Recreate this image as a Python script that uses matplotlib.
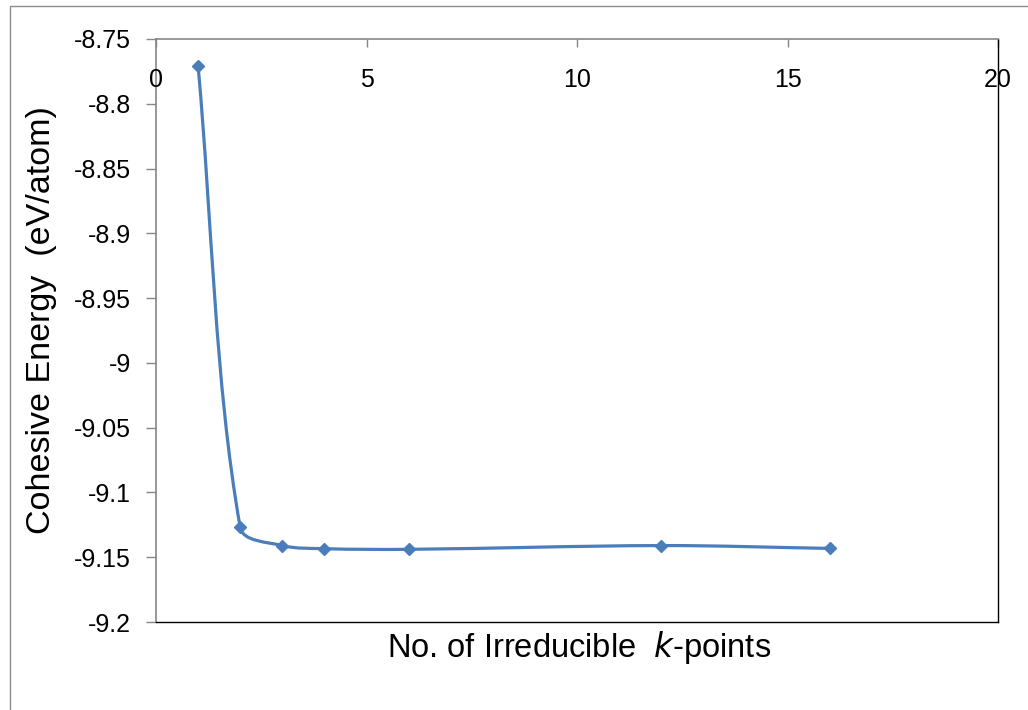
import numpy as np
import matplotlib
matplotlib.use("Agg")
import matplotlib.pyplot as plt
from matplotlib.patches import Rectangle
from matplotlib.path import Path
from matplotlib.patches import PathPatch
import matplotlib.transforms as mtransforms

plt.rcParams['font.family'] = ['Liberation Sans', 'DejaVu Sans']

kpoints = [1, 2, 3, 4, 6, 12, 16]
energy = [-8.771, -9.127, -9.141, -9.1434, -9.1439, -9.141, -9.1432]
xticks = [0, 5, 10, 15, 20]
yticks = [-8.75, -8.8, -8.85, -8.9, -8.95, -9.0, -9.05, -9.1, -9.15, -9.2]
ytick_labels = ['-8.75', '-8.8', '-8.85', '-8.9', '-8.95', '-9', '-9.05', '-9.1', '-9.15', '-9.2']

W, H = 1028, 710
fig = plt.figure(figsize=(W / 100, H / 100), dpi=100)

# outer chart border
fig.patches.append(Rectangle((10 / W, 0 - 0.01), 1.05, 1 - 6 / H + 0.01,
                             transform=fig.transFigure, fill=False,
                             edgecolor='#8c8c8c', linewidth=1.0))

L, R, T, B = 156, 998, 39, 622
ax = fig.add_axes([L / W, 1 - B / H, (R - L) / W, (B - T) / H])
ax.set_xlim(0, 20)
ax.set_ylim(-9.2, -8.75)

line_color = '#4A7EBB'

# Excel-style smoothed line: Bezier through the points, computed in screen space
def smooth_path(xs, ys):
    disp = ax.transData.transform(np.column_stack([xs, ys]).astype(float))
    n = len(disp)
    verts = [tuple(disp[0])]
    codes = [Path.MOVETO]
    for i in range(n - 1):
        p1, p2 = disp[i], disp[i + 1]
        if i == 0:
            c1 = p1 + (p2 - p1) / 3.0
        else:
            p0 = disp[i - 1]
            d1 = np.linalg.norm(p1 - p0); d2 = np.linalg.norm(p2 - p1)
            c1 = p1 + (p2 - p0) * d2 / (d1 + d2) / 3.0
        if i + 2 >= n:
            c2 = p2 - (p2 - p1) / 3.0
        else:
            p3 = disp[i + 2]
            d1 = np.linalg.norm(p2 - p1); d2 = np.linalg.norm(p3 - p2)
            c2 = p2 - (p3 - p1) * d1 / (d1 + d2) / 3.0
        verts += [tuple(c1), tuple(c2), tuple(p2)]
        codes += [Path.CURVE4, Path.CURVE4, Path.CURVE4]
    inv = ax.transData.inverted()
    return Path(inv.transform(np.array(verts)), codes)

ax.add_patch(PathPatch(smooth_path(kpoints, energy), facecolor='none',
                       edgecolor=line_color, linewidth=2.3, zorder=3))
ax.plot(kpoints, energy, linestyle='none', marker='D', markersize=6.5,
        color=line_color, zorder=4)

# spines
for s in ['top', 'left']:
    ax.spines[s].set_color('#868686')
    ax.spines[s].set_linewidth(1.2)
for s in ['bottom', 'right']:
    ax.spines[s].set_color('black')
    ax.spines[s].set_linewidth(1.0)

# y axis
ax.set_yticks(yticks)
ax.set_yticklabels(ytick_labels)
ax.tick_params(axis='y', direction='out', length=7, width=1, color='#868686',
               labelsize=18, pad=11, labelcolor='black')

# x axis at top, ticks inside, labels inside below the top line
ax.set_xticks(xticks)
ax.tick_params(axis='x', top=True, bottom=False, labeltop=False,
               labelbottom=False, direction='in', length=6, width=1,
               color='#868686')
trans = mtransforms.blended_transform_factory(ax.transData, ax.transAxes)
for t in xticks:
    ax.text(t, (B - 80) / (B - T), str(t), transform=trans, ha='center',
            va='center', fontsize=18, color='black')

fig.text(579 / W, 1 - 647 / H, 'No. of Irreducible  $\\mathit{k}$-points',
         ha='center', va='center', fontsize=23.5)
fig.text(42 / W, 1 - 320 / H, 'Cohesive Energy  (eV/atom)', rotation=90,
         ha='center', va='center', fontsize=24.5)

fig.savefig('out.png', dpi=100)
